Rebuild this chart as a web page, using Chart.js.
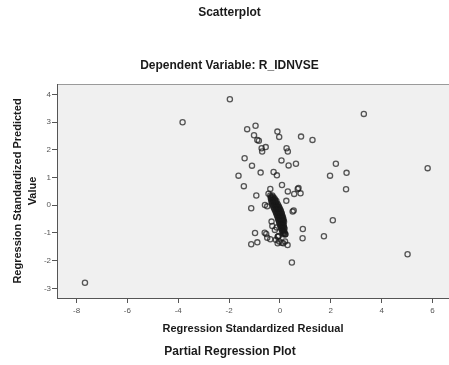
<!DOCTYPE html>
<html>
<head>
<meta charset="utf-8">
<style>
  html, body { margin: 0; padding: 0; background: #ffffff; }
  #wrap { position: relative; width: 449px; height: 365px; }
</style>
<script src="https://cdn.jsdelivr.net/npm/chart.js@4/dist/chart.umd.min.js"></script>
</head>
<body>
<div id="wrap"><canvas id="c" width="449" height="365"></canvas></div>
<script>
// ---- Data ----
const mainTitle = "Scatterplot";
const subTitle = "Dependent Variable: R_IDNVSE";
const xTitle = "Regression Standardized Residual";
const yTitle = ["Regression Standardized Predicted", "Value"];
const footTitle = "Partial Regression Plot";

const xTickValues = [-8, -6, -4, -2, 0, 2, 4, 6];
const yTickValues = [-3, -2, -1, 0, 1, 2, 3, 4];

// scattered points (residual, predicted)
const outlierX = [-7.67, -3.83, -1.97, 3.30, 5.81, 5.02, -1.29, -0.96, -1.02, -0.89, -0.83, -0.72, -0.70, -0.56,
  -0.10, -0.03, 0.83, 1.28, -1.39, -1.10, -0.76, -1.63, -1.42, -0.25, -0.12, 0.06, 0.26, 0.31, 0.34, 0.63,
  2.20, 1.97, 2.62, 2.60, 0.08, -0.38, -0.45, 0.31, 0.70, 0.73, 0.56, 0.81, -0.93, 0.25, -0.50, -1.13,
  0.50, 0.54, 2.08, 0.90, 0.89, 1.73, -0.98, -0.60, -0.54, -0.50, -0.38, -1.13, -0.89, -0.09, -0.09, -0.05,
  0.13, 0.30, 0.21, 0.47, -0.30, -0.13, -0.33, -0.20, -0.16, -0.03, 0.07, 0.20, -0.07, -0.59];
const outlierY = [-2.80, 3.00, 3.83, 3.30, 1.34, -1.77, 2.75, 2.87, 2.53, 2.36, 2.33, 2.06, 1.94, 2.10,
  2.66, 2.47, 2.48, 2.36, 1.70, 1.43, 1.18, 1.07, 0.69, 1.20, 1.08, 1.62, 2.06, 1.94, 1.44, 1.50,
  1.50, 1.07, 1.17, 0.58, 0.73, 0.59, 0.42, 0.50, 0.59, 0.62, 0.41, 0.43, 0.35, 0.16, -0.04, -0.11,
  -0.23, -0.19, -0.54, -0.86, -1.19, -1.12, -1.00, -0.99, -1.04, -1.17, -1.23, -1.41, -1.34, -1.37, -1.14, -1.11,
  -1.37, -1.44, -1.05, -2.07, -0.75, -0.80, -0.59, -0.89, -1.25, -1.31, -1.35, -1.31, -1.13, 0.01];

// dense band of points near the centre
const bandX = [-0.38, -0.30, -0.35, -0.27, -0.36, -0.29, -0.22, -0.33, -0.26, -0.19, -0.34, -0.27, -0.20, -0.14,
  -0.31, -0.24, -0.17, -0.30, -0.23, -0.16, -0.10, -0.27, -0.20, -0.13, -0.07, -0.26, -0.18, -0.11, -0.04,
  -0.23, -0.15, -0.08, -0.02, -0.21, -0.13, -0.06, 0.01, -0.18, -0.11, -0.04, 0.03, -0.16, -0.09, -0.02, 0.05,
  -0.14, -0.07, 0.00, 0.07, -0.12, -0.05, 0.02, 0.08, -0.10, -0.03, 0.04, 0.10, -0.08, -0.01, 0.06, 0.12,
  -0.07, 0.00, 0.07, 0.13, -0.05, 0.02, 0.09, 0.14, -0.03, 0.04, 0.10, 0.16, -0.02, 0.05, 0.12,
  0.00, 0.07, 0.13, 0.02, 0.08, 0.15, 0.04, 0.10, 0.16, 0.06, 0.12, 0.18, 0.08, 0.14, 0.10, 0.16, 0.12, 0.18, 0.15, 0.21];
const bandY = [0.35, 0.35, 0.30, 0.30, 0.25, 0.25, 0.25, 0.20, 0.20, 0.20, 0.15, 0.15, 0.15, 0.15,
  0.10, 0.10, 0.10, 0.05, 0.05, 0.05, 0.05, 0.00, 0.00, 0.00, 0.00, -0.05, -0.05, -0.05, -0.05,
  -0.10, -0.10, -0.10, -0.10, -0.15, -0.15, -0.15, -0.15, -0.20, -0.20, -0.20, -0.20, -0.25, -0.25, -0.25, -0.25,
  -0.30, -0.30, -0.30, -0.30, -0.35, -0.35, -0.35, -0.35, -0.40, -0.40, -0.40, -0.40, -0.45, -0.45, -0.45, -0.45,
  -0.50, -0.50, -0.50, -0.50, -0.55, -0.55, -0.55, -0.55, -0.60, -0.60, -0.60, -0.60, -0.65, -0.65, -0.65,
  -0.70, -0.70, -0.70, -0.75, -0.75, -0.75, -0.80, -0.80, -0.80, -0.85, -0.85, -0.85, -0.90, -0.90, -0.95, -0.95, -1.00, -1.00, -1.05, -1.05];

const allX = outlierX.concat(bandX);
const allY = outlierY.concat(bandY);
const points = allX.map((x, i) => ({ x: x, y: allY[i] }));

const FONT = "'Liberation Sans', Arial, Helvetica, sans-serif";

const plotDecor = {
  id: 'plotDecor',
  beforeDraw(chart) {
    const a = chart.chartArea, ctx = chart.ctx;
    ctx.save();
    ctx.fillStyle = '#f0f0f0';
    ctx.fillRect(a.left, a.top, a.right - a.left, a.bottom - a.top);
    ctx.strokeStyle = '#9a9a9a';
    ctx.lineWidth = 1;
    ctx.beginPath();
    ctx.moveTo(a.left, a.top + 0.5);
    ctx.lineTo(a.right, a.top + 0.5);
    ctx.stroke();
    ctx.restore();
  },
  afterDraw(chart) {
    const ctx = chart.ctx;
    ctx.save();
    ctx.font = "bold 12px " + FONT;
    ctx.fillStyle = '#1a1a1a';
    ctx.textAlign = 'center';
    ctx.textBaseline = 'middle';
    ctx.fillText(footTitle, 230, 352);
    ctx.restore();
  }
};

new Chart(document.getElementById('c'), {
  type: 'scatter',
  data: {
    datasets: [{
      data: points,
      pointStyle: 'circle',
      pointRadius: 2.6,
      pointHoverRadius: 2.6,
      borderWidth: 1.3,
      borderColor: 'rgba(25,25,25,0.72)',
      backgroundColor: 'rgba(0,0,0,0)'
    }]
  },
  plugins: [plotDecor],
  options: {
    responsive: false,
    animation: false,
    events: [],
    layout: { autoPadding: false, padding: { left: 10, right: 0, top: 0, bottom: 0 } },
    plugins: {
      legend: { display: false },
      tooltip: { enabled: false },
      title: {
        display: true,
        text: mainTitle,
        color: '#1a1a1a',
        font: { family: FONT, size: 12, weight: 'bold', lineHeight: 1.2 },
        padding: { top: 5.8, bottom: 38.6 }
      },
      subtitle: {
        display: true,
        text: subTitle,
        color: '#1a1a1a',
        font: { family: FONT, size: 12, weight: 'bold', lineHeight: 1.2 },
        padding: { top: 0, bottom: 10.8 }
      }
    },
    scales: {
      x: {
        type: 'linear',
        min: -8.77,
        max: 6.65,
        afterFit: s => { s.height = 67; s.paddingLeft = 0; s.paddingRight = 0; },
        afterBuildTicks: s => { s.ticks = xTickValues.map(v => ({ value: v })); },
        border: { display: true, color: '#555555', width: 1 },
        grid: { drawOnChartArea: false, drawTicks: true, tickLength: 5, color: '#555555' },
        ticks: { color: '#555555', padding: 3, font: { family: FONT, size: 8 } },
        title: {
          display: true,
          text: xTitle,
          color: '#1a1a1a',
          font: { family: FONT, size: 11, weight: 'bold', lineHeight: 1.2 },
          padding: { top: 0, bottom: 29.4 }
        }
      },
      y: {
        type: 'linear',
        min: -3.35,
        max: 4.38,
        afterFit: s => { s.width = 47; s.paddingTop = 0; s.paddingBottom = 0; },
        afterBuildTicks: s => { s.ticks = yTickValues.map(v => ({ value: v })); },
        border: { display: true, color: '#555555', width: 1 },
        grid: { drawOnChartArea: false, drawTicks: true, tickLength: 5, color: '#555555' },
        ticks: { color: '#555555', padding: 1, font: { family: FONT, size: 8 } },
        title: {
          display: true,
          text: yTitle,
          color: '#1a1a1a',
          font: { family: FONT, size: 11, weight: 'bold', lineHeight: 15 / 11 },
          padding: { top: 0.5, bottom: 0 }
        }
      }
    }
  }
});
</script>
</body>
</html>
